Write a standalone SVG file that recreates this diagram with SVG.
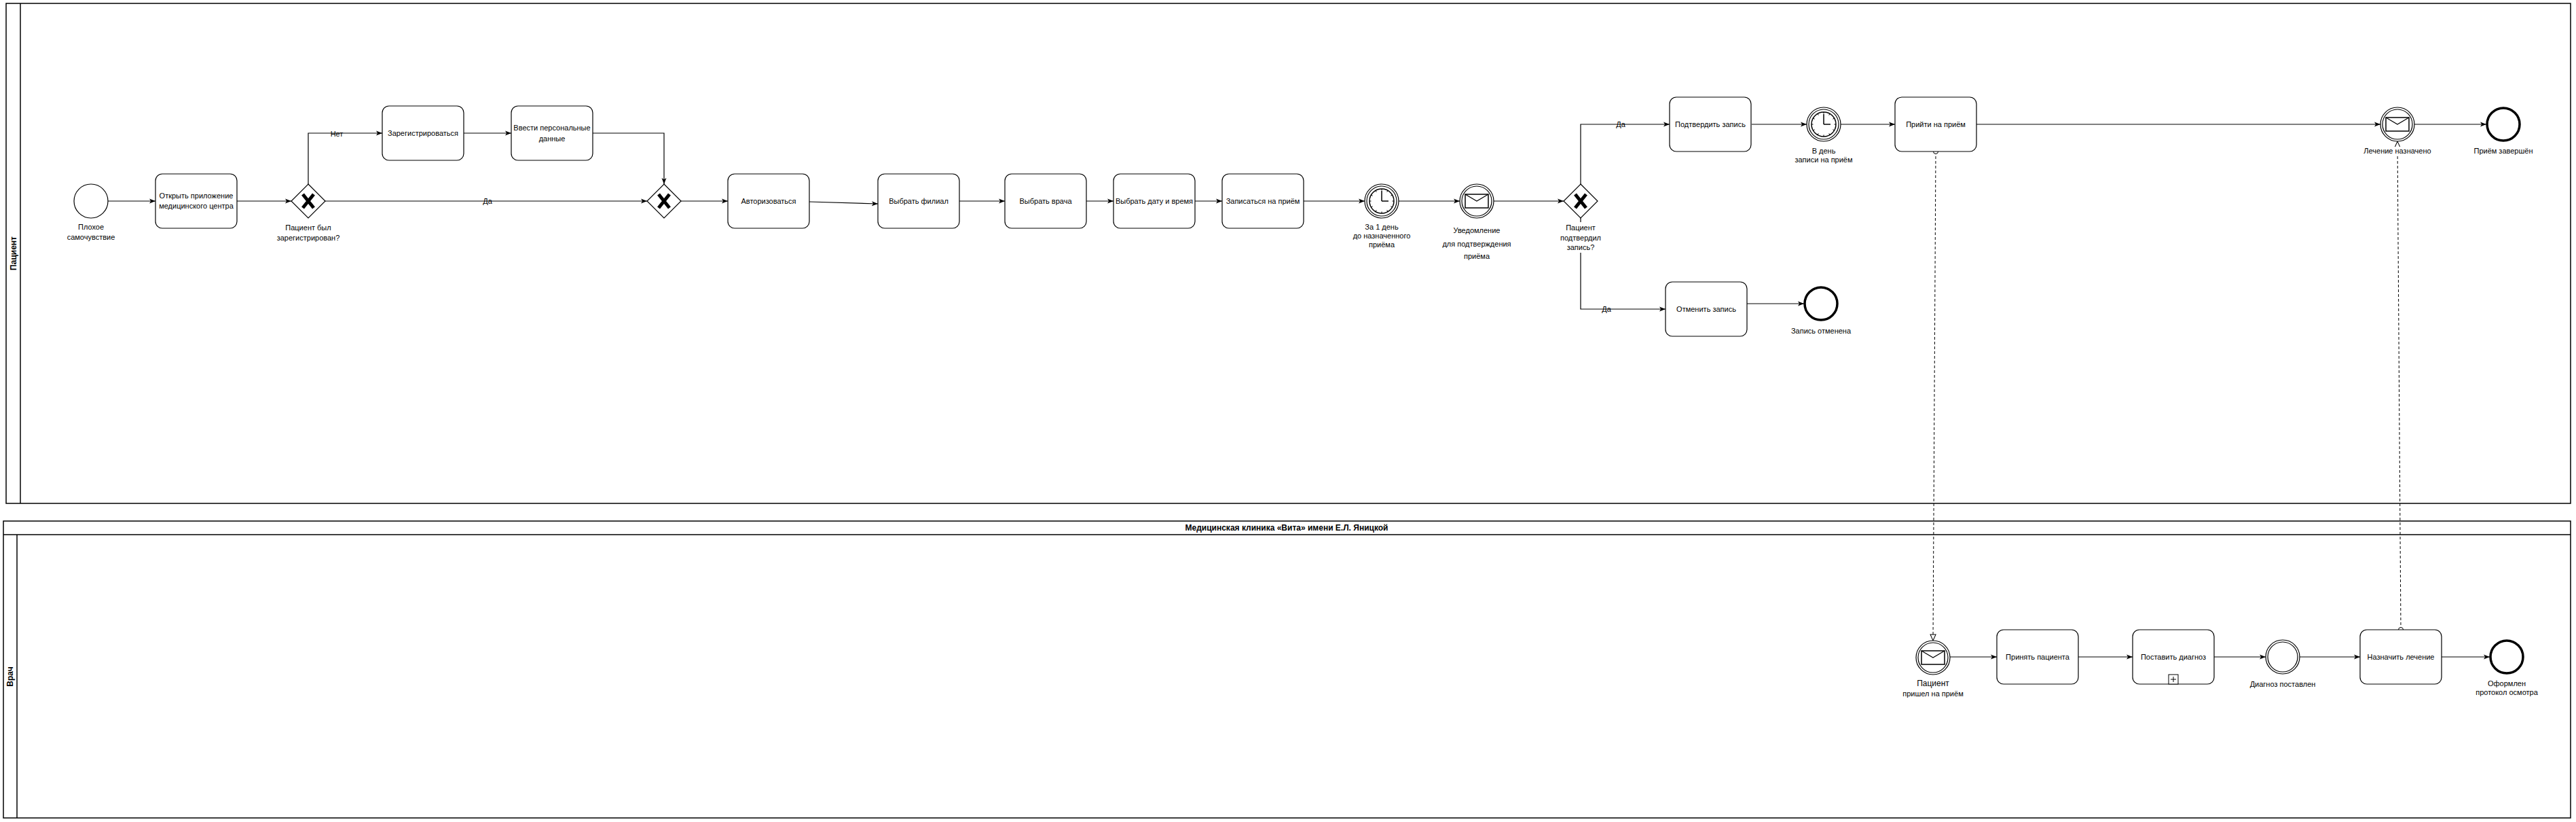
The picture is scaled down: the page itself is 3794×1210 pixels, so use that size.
<svg xmlns="http://www.w3.org/2000/svg" width="3794" height="1210" viewBox="0 0 3794 1210">
<style>
text { font-family: "Liberation Sans", Arial, sans-serif; font-size: 11px; fill: #000; text-anchor: middle; }
.b { font-weight: bold; font-size: 12px; }
.t12 { font-size: 12px; }
.task { fill: #fff; stroke: #000; stroke-width: 1.2; }
.pool { fill: none; stroke: #000; stroke-width: 1.5; }
.ev { fill: #fff; stroke: #000; stroke-width: 1.2; }
.evi { fill: none; stroke: #000; stroke-width: 1.2; }
.end { fill: #fff; stroke: #000; stroke-width: 3.5; }
.flow { fill: none; stroke: #000; stroke-width: 1.2; marker-end: url(#arr); }
.msg { fill: none; stroke: #000; stroke-width: 1; stroke-dasharray: 4 3; marker-start: url(#dot); marker-end: url(#open); }
</style>
<defs>
<marker id="arr" markerUnits="userSpaceOnUse" markerWidth="10" markerHeight="8" refX="9" refY="4" orient="auto">
<path d="M0,0.5 L9,4 L0,7.5 L2.2,4 Z" fill="#000"/>
</marker>
<marker id="open" markerUnits="userSpaceOnUse" markerWidth="12" markerHeight="12" refX="10" refY="5" orient="auto" overflow="visible">
<path d="M1,1 L10,5 L1,9 Z" fill="#fff" stroke="#000" stroke-width="1"/>
</marker>
<marker id="dot" markerUnits="userSpaceOnUse" markerWidth="10" markerHeight="10" refX="5" refY="5" overflow="visible">
<circle cx="5" cy="5" r="3.5" fill="#fff" stroke="#000" stroke-width="1"/>
</marker>
<g id="gwShape">
<path d="M0,-25 L25,0 L0,25 L-25,0 Z" fill="#fff" stroke="#000" stroke-width="1.2"/>
<path d="M-8,-10 L8,10 M8,-10 L-8,10" stroke="#000" stroke-width="5"/>
</g>
<g id="timerShape">
<circle r="25" fill="#fff" stroke="#000" stroke-width="1.2"/>
<circle r="22" fill="none" stroke="#000" stroke-width="1.2"/>
<circle r="18" fill="#fff" stroke="#000" stroke-width="1.5"/>
<path d="M0,-15.5 L0,-18 M7.75,-13.42 L9,-15.59 M13.42,-7.75 L15.59,-9 M15.5,0 L18,0 M13.42,7.75 L15.59,9 M7.75,13.42 L9,15.59 M0,15.5 L0,18 M-7.75,13.42 L-9,15.59 M-13.42,7.75 L-15.59,9 M-15.5,0 L-18,0 M-13.42,-7.75 L-15.59,-9 M-7.75,-13.42 L-9,-15.59" stroke="#000" stroke-width="1"/>
<path d="M0,0 L0,-15 M0,0 L10,0" fill="none" stroke="#000" stroke-width="1.5"/>
</g>
<g id="msgShape">
<circle r="25" fill="#fff" stroke="#000" stroke-width="1.2"/>
<circle r="22" fill="none" stroke="#000" stroke-width="1.2"/>
<rect x="-17" y="-10" width="34" height="20" fill="#fff" stroke="#000" stroke-width="1.5"/>
<path d="M-17,-10 L0,0 L17,-10" fill="none" stroke="#000" stroke-width="1.2"/>
</g>
</defs>

<rect width="3794" height="1210" fill="#fff"/>

<g id="pool-patient">
<rect class="pool" x="9" y="5" width="3777" height="736"/>
<line x1="30" y1="5" x2="30" y2="741" stroke="#000" stroke-width="1.5"/>
<text class="b" transform="translate(20,373) rotate(-90)" x="0" y="4">Пациент</text>
</g>

<g id="pool-clinic">
<rect class="pool" x="5" y="767" width="3781" height="437"/>
<line x1="5" y1="787" x2="3786" y2="787" stroke="#000" stroke-width="1.5"/>
<line x1="25" y1="787" x2="25" y2="1204" stroke="#000" stroke-width="1.5"/>
<text class="b" x="1895" y="781">Медицинская клиника «Вита» имени Е.Л. Яницкой</text>
<text class="b" transform="translate(15,996) rotate(-90)" x="0" y="4">Врач</text>
</g>

<g id="connectors">
<path class="flow" d="M159,296 H229"/>
<path class="flow" d="M349,296 H429"/>
<path class="flow" d="M479,296 H953"/>
<path class="flow" d="M454,271 V196 H563"/>
<path class="flow" d="M683,196 H753"/>
<path class="flow" d="M873,196 H978 V271"/>
<path class="flow" d="M1003,296 H1072"/>
<path class="flow" d="M1192,297 L1293,300"/>
<path class="flow" d="M1413,296 H1480"/>
<path class="flow" d="M1600,296 H1640"/>
<path class="flow" d="M1760,296 H1800"/>
<path class="flow" d="M1920,296 H2010"/>
<path class="flow" d="M2060,296 H2150"/>
<path class="flow" d="M2200,296 H2303"/>
<path class="flow" d="M2328,271 V183 H2459"/>
<path class="flow" d="M2328,321 V455 H2453"/>
<path class="flow" d="M2580,183 H2661"/>
<path class="flow" d="M2711,183 H2791"/>
<path class="flow" d="M2911,183 H3506"/>
<path class="flow" d="M3556,183 H3662"/>
<path class="flow" d="M2573,447 H2657"/>
<path class="flow" d="M2872,967 H2941"/>
<path class="flow" d="M3061,967 H3141"/>
<path class="flow" d="M3261,967 H3337"/>
<path class="flow" d="M3387,967 H3476"/>
<path class="flow" d="M3596,967 H3667"/>
<path class="msg" d="M2851,223 L2847,943"/>
<path class="msg" d="M3536,927 L3531,208"/>
<text x="496" y="201">Нет</text>
<text x="718" y="300">Да</text>
<text x="2387" y="187">Да</text>
<text x="2366" y="459">Да</text>
</g>

<g id="start-bad-feeling">
<circle class="ev" cx="134" cy="296" r="25"/>
<text x="134" y="338">Плохое</text>
<text x="134" y="353">самочувствие</text>
</g>

<g id="task-open-app">
<rect class="task" x="229" y="256" width="120" height="80" rx="10"/>
<text x="289" y="292">Открыть приложение</text>
<text x="289" y="307">медицинского центра</text>
</g>

<g id="gw-registered">
<use href="#gwShape" x="454" y="296"/>
<text x="454" y="339">Пациент был</text>
<text x="454" y="354">зарегистрирован?</text>
</g>

<g id="task-register">
<rect class="task" x="563" y="156" width="120" height="80" rx="10"/>
<text x="623" y="200">Зарегистрироваться</text>
</g>

<g id="task-personal-data">
<rect class="task" x="753" y="156" width="120" height="80" rx="10"/>
<text x="813" y="192">Ввести персональные</text>
<text x="813" y="208">данные</text>
</g>

<g id="gw-merge">
<use href="#gwShape" x="978" y="296"/>
</g>

<g id="task-login">
<rect class="task" x="1072" y="256" width="120" height="80" rx="10"/>
<text x="1132" y="300">Авторизоваться</text>
</g>

<g id="task-branch">
<rect class="task" x="1293" y="256" width="120" height="80" rx="10"/>
<text x="1353" y="300">Выбрать филиал</text>
</g>

<g id="task-doctor">
<rect class="task" x="1480" y="256" width="120" height="80" rx="10"/>
<text x="1540" y="300">Выбрать врача</text>
</g>

<g id="task-datetime">
<rect class="task" x="1640" y="256" width="120" height="80" rx="10"/>
<text x="1700" y="300">Выбрать дату и время</text>
</g>

<g id="task-book">
<rect class="task" x="1800" y="256" width="120" height="80" rx="10"/>
<text x="1860" y="300">Записаться на приём</text>
</g>

<g id="timer-day-before">
<use href="#timerShape" x="2035" y="296"/>
<text x="2035" y="338">За 1 день</text>
<text x="2035" y="351">до назначенного</text>
<text x="2035" y="364">приёма</text>
</g>

<g id="msg-confirm-notice">
<use href="#msgShape" x="2175" y="296"/>
<text x="2175" y="343">Уведомление</text>
<text x="2175" y="363">для подтверждения</text>
<text x="2175" y="381">приёма</text>
</g>

<g id="gw-confirmed">
<use href="#gwShape" x="2328" y="296"/>
<rect x="2294" y="327" width="68" height="45" fill="#fff"/>
<text x="2328" y="339">Пациент</text>
<text x="2328" y="354">подтвердил</text>
<text x="2328" y="368">запись?</text>
</g>

<g id="task-confirm">
<rect class="task" x="2459" y="143" width="120" height="80" rx="10"/>
<text x="2519" y="187">Подтвердить запись</text>
</g>

<g id="timer-day-of">
<use href="#timerShape" x="2686" y="183"/>
<text x="2686" y="226">В день</text>
<text x="2686" y="239">записи на приём</text>
</g>

<g id="task-come">
<rect class="task" x="2791" y="143" width="120" height="80" rx="10"/>
<text x="2851" y="187">Прийти на приём</text>
</g>

<g id="msg-treatment-assigned">
<use href="#msgShape" x="3531" y="183"/>
<rect x="3482" y="216" width="98" height="14" fill="#fff"/>
<text x="3531" y="226">Лечение назначено</text>
</g>

<g id="end-visit-done">
<circle class="end" cx="3687" cy="183" r="24"/>
<text x="3687" y="226">Приём завершён</text>
</g>

<g id="task-cancel">
<rect class="task" x="2453" y="415" width="120" height="80" rx="10"/>
<text x="2513" y="459">Отменить запись</text>
</g>

<g id="end-cancelled">
<circle class="end" cx="2682" cy="447" r="24"/>
<text x="2682" y="491">Запись отменена</text>
</g>

<g id="msg-patient-arrived">
<use href="#msgShape" x="2847" y="968"/>
<text class="t12" x="2847" y="1010">Пациент</text>
<text x="2847" y="1025">пришел на приём</text>
</g>

<g id="task-receive">
<rect class="task" x="2941" y="927" width="120" height="80" rx="10"/>
<text x="3001" y="971">Принять пациента</text>
</g>

<g id="task-diagnose">
<rect class="task" x="3141" y="927" width="120" height="80" rx="10"/>
<text x="3201" y="971">Поставить диагноз</text>
<rect x="3194" y="993" width="14" height="14" fill="#fff" stroke="#000" stroke-width="1"/>
<path d="M3201,996 V1004 M3197,1000 H3205" stroke="#000" stroke-width="1"/>
</g>

<g id="ev-diagnosed">
<circle class="ev" cx="3362" cy="967" r="25"/>
<circle class="evi" cx="3362" cy="967" r="22"/>
<text x="3362" y="1011">Диагноз поставлен</text>
</g>

<g id="task-treatment">
<rect class="task" x="3476" y="927" width="120" height="80" rx="10"/>
<text x="3536" y="971">Назначить лечение</text>
</g>

<g id="end-protocol">
<circle class="end" cx="3692" cy="967" r="24"/>
<text x="3692" y="1010">Оформлен</text>
<text x="3692" y="1023">протокол осмотра</text>
</g>
</svg>
